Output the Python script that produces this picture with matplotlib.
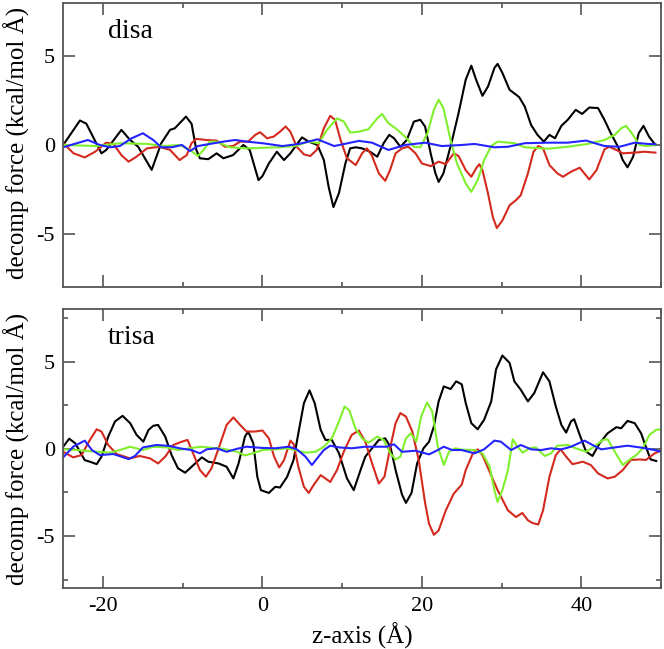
import matplotlib
matplotlib.use("Agg")
from matplotlib import pyplot as plt
from matplotlib.ticker import MultipleLocator

plt.rcParams['font.family'] = ['Liberation Serif', 'DejaVu Serif']
plt.rcParams['axes.unicode_minus'] = False  # plain hyphen like the original

# ---- disa (top panel) ----
disa_black_x = [-25, -22.9, -22.1, -20.2, -19.6, -17.7, -16.6, -15.6, -13.9, -12.7, -11.6, -11.0, -9.6, -8.9,
                -8.3, -7.85, -6.8, -5.75, -4.9, -3.7, -2.4, -1.6, -0.5, 0.0, 0.8, 1.8, 2.7, 3.5, 4.96, 5.8,
                6.9, 7.7, 8.3, 8.9, 9.6, 10.4, 11.0, 11.7, 12.5, 13.5, 14.4, 15.2, 15.9, 16.5, 17.3, 18.1,
                19.0, 19.8, 20.4, 21.1, 21.7, 22.1, 22.7, 23.8, 24.6, 25.5, 26.2, 26.8, 27.6, 28.3, 29.1,
                29.5, 30.1, 31.0, 32.2, 32.9, 33.7, 34.5, 35.3, 36.0, 36.7, 37.5, 38.3, 39.3, 40.1, 41.0,
                42.1, 42.9, 43.7, 44.6, 45.2, 45.8, 46.5, 47.2, 47.8, 48.5, 49.3]
disa_black_y = [0.0, 1.38, 1.2, -0.47, -0.28, 0.85, 0.28, -0.1, -1.4, 0.1, 0.85, 0.94, 1.6, 1.2,
                -0.28, -0.75, -0.8, -0.47, -0.75, -0.57, 0.0, -0.28, -1.98, -1.75, -1.04, -0.38, -0.85, -0.47,
                0.43, 0.19, 0.0, -0.85, -2.36, -3.5, -2.7, -1.04, -0.19, -0.13, -0.19, -0.38, -0.66, 0.1,
                0.57, 0.38, -0.1, 0.28, 1.32, 1.42, 1.04, -0.47, -1.6, -2.08, -1.6, 0.28, 1.8, 3.68, 4.47,
                3.68, 2.77, 3.3, 4.34, 4.57, 4.06, 3.11, 2.7, 2.17, 1.13, 0.57, 0.19, 0.57, 0.38, 1.08,
                1.42, 1.98, 1.75, 2.11, 2.08, 1.42, 0.66, -0.1, -0.85, -1.26, -0.66, 0.66, 1.08, 0.47, 0.0]

disa_red_x = [-25, -23.7, -22.3, -21.0, -19.6, -18.7, -17.7, -16.8, -15.8, -14.5, -12.9, -11.6, -10.4, -9.5,
              -8.9, -8.3, -7.0, -5.75, -4.7, -3.7, -2.8, -1.8, -0.9, -0.3, 0.57, 1.4, 2.2, 2.9, 3.5, 4.3,
              5.2, 6.0, 6.8, 7.7, 8.5, 9.1, 9.8, 10.6, 11.7, 12.5, 13.1, 13.7, 14.6, 15.4, 16.0, 16.7,
              17.5, 18.3, 19.2, 20.0, 21.1, 22.1, 23.0, 24.0, 24.6, 25.5, 26.2, 26.8, 27.2, 27.6, 28.3,
              28.9, 29.4, 30.1, 31.0, 31.8, 32.4, 33.3, 34.0, 34.6, 35.2, 36.0, 37.0, 37.7, 38.7, 39.8,
              41.0, 41.9, 42.9, 43.5, 44.4, 45.2, 46.7, 47.9, 49.3]
disa_red_y = [0.1, -0.47, -0.7, -0.38, 0.13, 0.06, -0.57, -0.94, -0.66, -0.19, -0.1, -0.28, -0.85, -0.57,
              0.1, 0.34, 0.28, 0.25, -0.1, -0.06, 0.19, 0.19, 0.57, 0.72, 0.38, 0.47, 0.75, 1.04, 0.75,
              -0.1, -0.53, -0.62, -0.28, 0.94, 1.64, 1.42, 0.28, -0.75, -1.13, -0.47, -0.19, -0.57, -1.6,
              -2.02, -1.42, -0.47, -0.19, -0.1, -0.47, -1.04, -1.19, -0.94, -1.08, -0.47, -0.62, -1.42,
              -1.79, -1.32, -1.08, -1.42, -2.74, -4.06, -4.68, -4.25, -3.4, -3.11, -2.83, -1.6, -0.38,
              -0.06, -0.19, -1.13, -1.6, -1.79, -1.51, -1.28, -1.94, -1.42, -0.25, -0.1, -0.28, -0.47,
              -0.43, -0.38, -0.43]

disa_green_x = [-25, -20.8, -17.9, -14.5, -12.4, -10.4, -9.1, -8.1, -7.4, -6.6, -5.75, -4.1, -2.0, 0.0, 2.0,
                4.1, 5.8, 7.05, 8.1, 9.35, 10.2, 11.0, 12.1, 13.3, 14.4, 15.0, 15.8, 16.7, 17.9, 19.0,
                19.8, 20.7, 21.5, 22.1, 22.7, 23.6, 24.4, 25.0, 25.5, 26.2, 27.0, 27.8, 28.7, 29.5, 31.6,
                32.9, 35.8, 38.3, 40.8, 42.9, 44.2, 45.0, 45.6, 46.2, 47.3, 48.1, 49.3]
disa_green_y = [0.0, -0.06, 0.1, 0.06, -0.06, 0.0, -0.28, -0.62, -0.28, 0.19, 0.19, -0.13, -0.19, -0.16,
                -0.13, -0.06, 0.19, 0.1, 0.85, 1.5, 1.32, 0.7, 0.75, 0.89, 1.5, 1.75, 1.23, 0.94, 0.47,
                -0.1, -0.13, 0.66, 1.98, 2.55, 2.08, 0.28, -1.04, -1.65, -2.17, -2.64, -1.98, -0.85, -0.06,
                0.19, 0.1, -0.13, -0.21, -0.1, 0.06, 0.28, 0.57, 0.94, 1.08, 0.75, 0.0, -0.06, 0.0]

disa_blue_x = [-25, -23.3, -21.9, -20.4, -19.1, -17.9, -16.4, -15.0, -13.7, -12.7, -11.4, -10.1, -9.1, -8.1,
               -6.6, -4.9, -3.45, -2.0, 0.0, 2.5, 4.6, 6.9, 9.0, 12.1, 13.75, 15.8, 17.9, 20.4, 22.5, 25.0,
               26.6, 29.1, 30.8, 32.9, 35.8, 38.3, 40.6, 42.9, 44.8, 46.7, 48.3, 49.3]
disa_blue_y = [-0.13, 0.1, 0.28, 0.0, -0.13, -0.06, 0.38, 0.66, 0.28, -0.13, -0.13, 0.0, -0.34, -0.06,
               0.06, 0.19, 0.28, 0.19, 0.1, -0.06, 0.06, 0.32, -0.06, 0.23, 0.13, -0.28, 0.0, 0.13, -0.06,
               0.0, 0.06, -0.13, -0.1, 0.1, 0.13, 0.13, 0.25, -0.06, -0.1, 0.13, 0.06, 0.04]

# ---- trisa (bottom panel) ----
trisa_black_x = [-25, -24.25, -23.5, -22.3, -21.65, -20.8, -20.2, -19.35, -18.5, -17.55, -16.6, -15.8, -14.95,
                 -14.3, -13.7, -13.1, -12.2, -11.4, -10.6, -9.7, -8.9, -7.6, -6.8, -5.5, -4.5, -3.65, -3.0,
                 -2.2, -1.8, -1.15, -0.65, -0.2, 0.8, 1.6, 2.2, 3.1, 3.9, 4.5, 5.2, 5.9, 6.55, 7.3, 7.9,
                 8.7, 9.6, 10.6, 11.45, 12.3, 12.9, 13.75, 14.6, 15.4, 16.05, 16.7, 17.5, 18.0, 18.7, 19.4,
                 20.2, 20.9, 21.5, 22.1, 22.75, 23.6, 24.3, 25.0, 25.5, 26.2, 27.0, 27.8, 28.7, 29.3, 30.1,
                 31.0, 31.6, 32.4, 33.3, 34.1, 35.2, 36.0, 36.8, 37.5, 38.1, 38.7, 39.1, 39.8, 40.6, 41.4,
                 42.3, 43.3, 44.4, 45.0, 45.8, 46.7, 47.5, 48.1, 48.7, 49.4]
trisa_black_y = [0.12, 0.58, 0.32, -0.65, -0.74, -0.88, -0.45, 0.7, 1.57, 1.89, 1.47, 0.8, 0.41, 1.08, 1.32,
                 1.37, 0.7, -0.36, -1.12, -1.37, -1.03, -0.49, -0.74, -0.84, -1.03, -1.7, -0.84, 0.7, 0.99,
                 0.32, -1.6, -2.37, -2.53, -2.18, -2.22, -1.6, -0.64, 0.89, 2.62, 3.35, 2.62, 1.09, 0.51,
                 0.51, -0.26, -1.7, -2.37, -1.22, -0.45, 0.03, 0.51, 0.6, 0.12, -1.22, -2.62, -3.1, -2.53,
                 -0.84, 0.03, 0.41, 1.28, 2.72, 3.58, 3.43, 3.87, 3.7, 2.62, 1.47, 1.12, 1.66, 2.72, 4.55,
                 5.35, 4.93, 3.87, 3.39, 2.72, 3.2, 4.39, 3.87, 2.43, 1.37, 0.93, 1.57, 1.7, 0.8, -0.16,
                 -0.41, 0.32, 0.89, 1.24, 1.18, 1.6, 1.47, 0.89, 0.12, -0.61, -0.7]

trisa_red_x = [-25, -23.75, -22.7, -21.65, -20.8, -20.2, -19.35, -18.3, -16.6, -15.4, -14.1, -13.1, -12.2,
               -11.2, -10.1, -9.4, -8.7, -7.85, -7.1, -6.4, -5.5, -4.5, -3.65, -2.8, -2.0, -0.94, 0.0, 0.8,
               1.46, 2.1, 2.7, 3.5, 3.9, 4.5, 5.2, 5.8, 6.4, 7.3, 7.9, 8.5, 9.35, 10.2, 11.2, 12.1, 12.9,
               13.75, 14.6, 15.3, 16.05, 16.7, 17.3, 18.0, 18.8, 19.6, 20.4, 20.9, 21.5, 22.1, 23.0, 24.0,
               25.0, 25.5, 26.4, 27.0, 27.6, 28.5, 29.5, 30.8, 31.8, 32.6, 33.3, 33.9, 34.6, 35.2, 36.0,
               36.8, 37.4, 38.1, 38.9, 40.2, 41.2, 42.1, 43.3, 44.2, 45.2, 46.2, 47.3, 48.1, 49.2, 50.0]
trisa_red_y = [-0.17, -0.49, -0.36, 0.51, 1.12, 0.99, 0.22, -0.3, -0.55, -0.41, -0.55, -0.84, -0.45, 0.22,
               0.41, 0.51, -0.26, -1.22, -1.6, -1.12, 0.03, 1.37, 1.8, 1.37, 0.99, 0.99, 1.05, 0.6, -0.45,
               -1.07, -0.65, 0.47, 0.28, -1.03, -2.18, -2.53, -2.09, -1.51, -1.7, -1.9, -1.22, -0.16, 0.8,
               1.05, 0.41, -0.84, -1.99, -1.6, 0.12, 1.47, 2.05, 1.85, 0.99, -0.64, -3.1, -4.3, -4.93,
               -4.68, -3.53, -2.57, -2.05, -1.22, -0.26, -0.03, -0.36, -1.32, -2.37, -3.53, -3.91, -3.68,
               -4.1, -4.26, -4.34, -3.53, -1.6, -0.36, -0.03, -0.45, -0.88, -0.74, -0.93, -1.41, -1.7,
               -1.6, -1.22, -0.64, -0.61, -0.64, -0.26, -0.1]

trisa_green_x = [-25, -23.3, -20.8, -19.1, -17.9, -16.6, -15.0, -13.7, -12.0, -10.6, -9.1, -7.85, -6.6, -4.9,
                 -3.2, -2.2, -0.94, 0.0, 1.6, 3.1, 4.1, 5.4, 6.65, 7.7, 8.7, 9.6, 10.3, 10.9, 11.65, 12.5,
                 13.3, 14.4, 15.2, 16.05, 16.7, 17.3, 18.0, 18.6, 19.3, 19.9, 20.65, 21.3, 22.0, 22.75, 23.4,
                 24.2, 25.0, 26.6, 27.6, 28.5, 29.1, 29.5, 30.1, 30.8, 31.4, 32.0, 32.65, 33.5, 34.3, 35.4,
                 36.2, 37.0, 38.3, 39.3, 40.6, 41.6, 42.7, 43.3, 44.2, 45.2, 46.0, 46.9, 47.7, 48.55, 49.4,
                 50.0]
trisa_green_y = [-0.03, -0.07, -0.17, -0.22, -0.07, 0.12, -0.07, 0.12, 0.08, -0.07, 0.03, 0.12, 0.07, 0.0,
                 -0.17, -0.38, -0.22, -0.07, -0.03, 0.03, -0.07, -0.22, -0.17, 0.12, 0.6, 1.57, 2.43, 2.2,
                 1.18, 0.6, 0.35, 0.7, 0.51, -0.26, -0.61, -0.45, 0.6, 0.89, 0.41, 1.85, 2.66, 2.14, 0.12,
                 -0.93, -0.17, 0.03, -0.05, -0.07, -0.26, -1.03, -2.37, -3.05, -2.37, -1.22, 0.55, 0.12,
                 -0.22, 0.03, 0.08, -0.41, -0.26, 0.18, 0.22, 0.03, -0.17, 0.12, 0.51, 0.55, -0.17, -0.93,
                 -0.64, -0.36, 0.03, 0.8, 1.09, 1.12]

trisa_blue_x = [-25, -23.75, -22.3, -21.4, -20.4, -18.7, -16.8, -16.0, -15.0, -13.3, -11.6, -10.4, -8.9,
                -7.85, -7.0, -5.75, -4.5, -3.2, -2.0, 0.0, 1.6, 3.3, 4.3, 5.4, 6.2, 6.85, 7.7, 8.5, 9.6,
                11.2, 12.9, 14.6, 15.6, 16.5, 17.5, 19.2, 20.9, 22.0, 22.75, 23.8, 25.0, 26.6, 27.8, 29.1,
                29.9, 31.2, 32.4, 33.7, 34.95, 36.2, 37.5, 38.7, 40.4, 41.4, 42.5, 44.2, 45.8, 47.5, 49.2,
                50.0]
trisa_blue_y = [-0.49, 0.12, 0.47, -0.07, -0.36, -0.3, -0.59, -0.41, 0.08, 0.22, 0.16, 0.03, -0.07, -0.26,
                -0.03, 0.03, -0.17, 0.0, 0.12, 0.05, 0.03, 0.12, -0.03, -0.45, -0.93, -0.55, -0.07, 0.18,
                0.08, 0.03, 0.12, 0.12, 0.12, 0.26, -0.17, -0.11, -0.32, -0.07, 0.12, -0.07, -0.07, -0.26,
                -0.03, 0.47, 0.41, -0.07, 0.22, -0.03, -0.07, 0.03, -0.03, 0.12, 0.47, 0.22, -0.03, 0.08,
                0.18, 0.07, -0.07, -0.17]

panel_names = ['disa', 'trisa']
ylabel_text = 'decomp force (kcal/mol Å)'
xlabel_text = 'z-axis (Å)'

colors = ['black', '#d42a1e', '#80f02c', '#2424ff']
spine_color = '#555555'

fig = plt.figure(figsize=(6.64, 6.49), dpi=100)
ax_top = fig.add_axes([0.0952, 0.5578, 0.9003, 0.4376])
ax_bot = fig.add_axes([0.0952, 0.0935, 0.9003, 0.4299])

panels = [
    (ax_top, [(disa_black_x, disa_black_y), (disa_red_x, disa_red_y),
              (disa_green_x, disa_green_y), (disa_blue_x, disa_blue_y)]),
    (ax_bot, [(trisa_black_x, trisa_black_y), (trisa_red_x, trisa_red_y),
              (trisa_green_x, trisa_green_y), (trisa_blue_x, trisa_blue_y)]),
]

for i, (ax, series) in enumerate(panels):
    for (xs, ys), c in zip(series, colors):
        ax.plot(xs, ys, color=c, lw=1.5, solid_joinstyle='round')
    ax.set_xlim(-25, 50)
    ax.set_ylim(-8, 8)
    ax.xaxis.set_major_locator(MultipleLocator(20))
    ax.xaxis.set_minor_locator(MultipleLocator(10))
    ax.yaxis.set_major_locator(MultipleLocator(5))
    if i == 1:
        ax.yaxis.set_minor_locator(MultipleLocator(2.5))
    ax.tick_params(which='both', direction='in', top=True, right=True, color=spine_color, width=1.2,
                   labelsize=16, pad=6)
    ax.tick_params(which='major', length=8.5)
    ax.tick_params(which='minor', length=3.8)
    for s in ax.spines.values():
        s.set_color(spine_color)
        s.set_linewidth(1.3)
    ax.text(0.075, 0.90, panel_names[i], transform=ax.transAxes, fontsize=20, va='center', ha='left')

ax_top.tick_params(labelbottom=False)

fig.text(0.025, 0.780, ylabel_text, rotation=90, ha='center', va='center', fontsize=18)
fig.text(0.025, 0.309, ylabel_text, rotation=90, ha='center', va='center', fontsize=18)
fig.text(0.546, 0.021, xlabel_text, ha='center', va='center', fontsize=18)

fig.savefig('out.png', dpi=100)
